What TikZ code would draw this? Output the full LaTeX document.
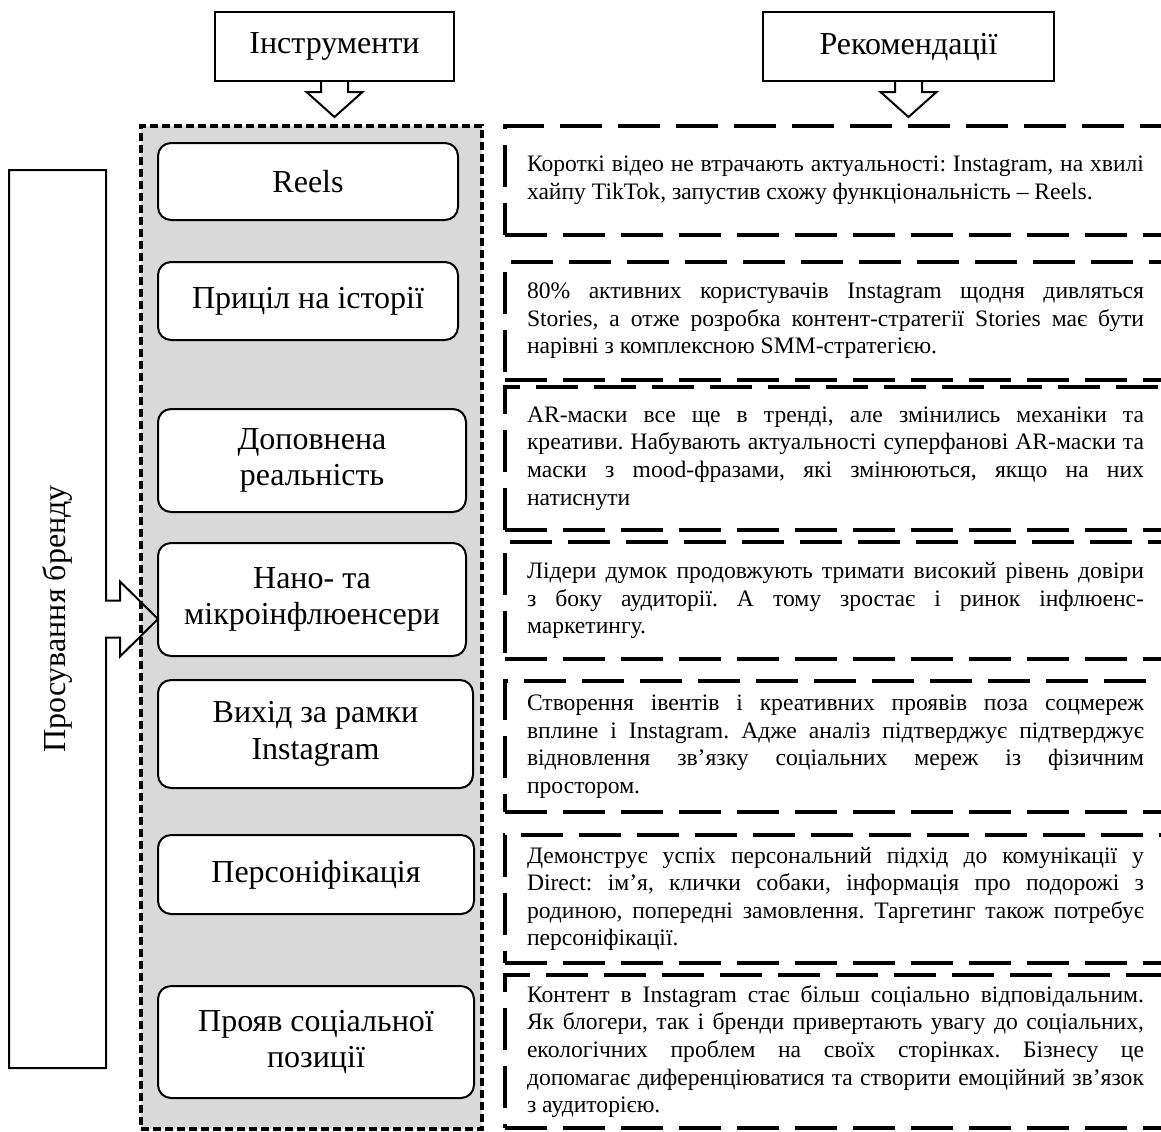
\documentclass[tikz,border=0pt]{standalone}
\usepackage{fontspec}
\setmainfont{Liberation Serif}
\usetikzlibrary{positioning}
\frenchspacing

\tikzstyle{headbox} = [rectangle, draw=black, line width=1pt, outer sep=0pt, minimum height=34.5pt, text centered, font=\fontsize{16}{18.4}\selectfont]
\tikzstyle{toolbox} = [rectangle, rounded corners=6.5pt, draw=black, line width=1pt, outer sep=0pt, fill=white, align=center, font=\fontsize{16}{18.4}\selectfont]
\tikzstyle{recbox} = [rectangle, draw=black, line width=2.25pt, outer sep=0pt, dash pattern=on 21pt off 8pt, text width=308.5pt, inner xsep=11pt, align=justify, font=\fontsize{11.8}{13.8}\selectfont]
\tikzstyle{greyframe} = [rectangle, draw=black, line width=1.6pt, outer sep=0pt, dash pattern=on 4pt off 2pt, fill=black!15]
\tikzstyle{blockarrow} = [draw=black, line width=1pt, line join=miter]

\begin{document}
\begin{tikzpicture}
\useasboundingbox (0,0) rectangle (580.5pt,-565.5pt);

% Background frame
\node (area) [greyframe, minimum width=170.5pt, minimum height=501.5pt] at (155.75pt,-313.75pt) {};

% Headers
\node (tools) [headbox, minimum width=119.5pt] at (167.25pt,-23.25pt) {Інструменти};
\node (recs) [headbox, minimum width=145.5pt, right=154.5pt of tools] {Рекомендації};

% Tools
\node (reels) [toolbox, minimum width=150pt, minimum height=38.5pt, anchor=north west] at (79pt,-71.5pt) {Reels};
\node (pricil) [toolbox, minimum width=150pt, minimum height=39pt, below=21pt of reels.south west, anchor=north west] {Приціл на історії};
\node (dopovn) [toolbox, minimum width=154pt, minimum height=51.5pt, below=34.5pt of pricil.south west, anchor=north west] {Доповнена\\реальність};
\node (nano) [toolbox, minimum width=154pt, minimum height=56.5pt, below=15.5pt of dopovn.south west, anchor=north west] {Нано- та\\мікроінфлюенсери};
\node (vykhid) [toolbox, minimum width=157.5pt, minimum height=54pt, below=12pt of nano.south west, anchor=north west] {Вихід за рамки\\Instagram};
\node (person) [toolbox, minimum width=158pt, minimum height=39.5pt, below=23.5pt of vykhid.south west, anchor=north west] {Персоніфікація};
\node (proyav) [toolbox, minimum width=158pt, minimum height=56pt, below=36pt of person.south west, anchor=north west] {Прояв соціальної\\позиції};

% Recommendations
\node (rec1) [recbox, minimum height=54.5pt, anchor=north west] at (252.5pt,-63pt) {Короткі відео не втрачають актуальності: Instagram, на хвилі\linebreak хайпу TikTok, запустив схожу функціональність – Reels.};
\node (rec2) [recbox, minimum height=59pt, below=13.5pt of rec1.south west, anchor=north west] {80\% активних користувачів Instagram щодня дивляться\linebreak Stories, а отже розробка контент-стратегії Stories має бути\linebreak нарівні з комплексною SMM-стратегією.};
\node (rec3) [recbox, minimum height=71.5pt, below=3.5pt of rec2.south west, anchor=north west] {AR-маски все ще в тренді, але змінились механіки та\linebreak креативи. Набувають актуальності суперфанові AR-маски та\linebreak маски з mood-фразами, які змінюються, якщо на них\linebreak натиснути};
\node (rec4) [recbox, minimum height=58.5pt, below=6pt of rec3.south west, anchor=north west] {Лідери думок продовжують тримати високий рівень довіри\linebreak з боку аудиторії. А тому зростає і ринок інфлюенс-\linebreak маркетингу.};
\node (rec5) [recbox, minimum height=65.5pt, below=11pt of rec4.south west, anchor=north west] {Створення івентів і креативних проявів поза соцмереж\linebreak вплине і Instagram. Адже аналіз підтверджує підтверджує\linebreak відновлення зв’язку соціальних мереж із фізичним\linebreak простором.};
\node (rec6) [recbox, minimum height=64pt, below=11.5pt of rec5.south west, anchor=north west] {Демонструє успіх персональний підхід до комунікації у\linebreak Direct: ім’я, клички собаки, інформація про подорожі з\linebreak родиною, попередні замовлення. Таргетинг також потребує\linebreak персоніфікації.};
\node (rec7) [recbox, minimum height=76.5pt, below=6pt of rec6.south west, anchor=north west] {Контент в Instagram стає більш соціально відповідальним.\linebreak Як блогери, так і бренди привертають увагу до соціальних,\linebreak екологічних проблем на своїх сторінках. Бізнесу це\linebreak допомагає диференціюватися та створити емоційний зв’язок\linebreak з аудиторією.};

% Brand promotion
\node (promo) [minimum width=48.5pt, minimum height=449pt, outer sep=0pt, font=\fontsize{16}{18.4}\selectfont] at (28.75pt,-309.5pt) {\rotatebox{90}{Просування бренду}};

% Arrows
\draw [blockarrow] ([xshift=-6.75pt]tools.south) -- ++(0,-5.5pt) -- ++(-7.25pt,0) -- ++(14pt,-12.5pt) -- ++(14pt,12.5pt) -- ++(-7.25pt,0) -- ++(0,5.5pt);
\draw [blockarrow] ([xshift=-6.75pt]recs.south) -- ++(0,-5.5pt) -- ++(-7.25pt,0) -- ++(14pt,-12.5pt) -- ++(14pt,12.5pt) -- ++(-7.25pt,0) -- ++(0,5.5pt);
\draw [blockarrow] (promo.north west) -- (promo.north east) -- ([yshift=9.25pt]promo.east) -- ++(7pt,0) -- ++(0,9.5pt) -- (nano.west |- promo.east) -- ([xshift=7pt,yshift=-18.75pt]promo.east) -- ++(0,9.5pt) -- ([yshift=-9.25pt]promo.east) -- (promo.south east) -- (promo.south west) -- cycle;

\end{tikzpicture}
\end{document}
